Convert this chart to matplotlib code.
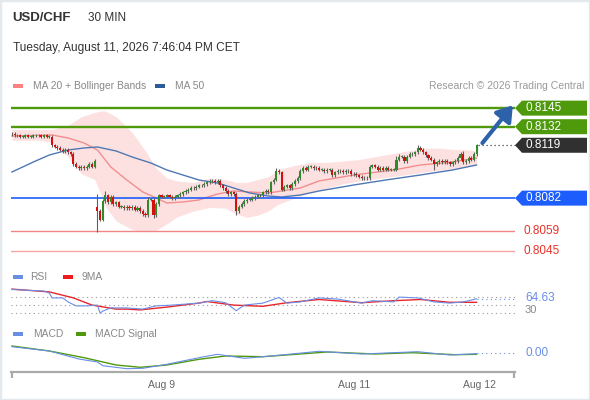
import numpy as np
import matplotlib
matplotlib.use("Agg")
import matplotlib.pyplot as plt
from matplotlib.patches import Polygon, Rectangle
from matplotlib.transforms import blended_transform_factory

plt.rcParams['font.family'] = ['Liberation Sans', 'DejaVu Sans']

# ---------------- data (prices given in pips above 0.8000) ----------------
closes_pips = [
    127, 126, 126, 125, 125, 126, 125, 125, 126, 126, 126, 125, 126, 125, 125,
    119,
    118, 117, 116, 115, 116, 114, 113,
    106,
    104, 103, 104, 103, 104, 106, 104, 108,
    73, 67, 80, 84, 79, 83, 78, 79, 76, 76, 75, 76, 75, 76, 74, 75, 73, 71, 70,
    81, 81, 70, 78, 84,
    83, 83, 84, 83, 82, 83, 84,
    85, 86, 87, 88, 89, 89, 90, 91, 91, 92, 93,
    94, 94, 93, 94,
    91, 89, 87, 85, 86, 85,
    73,
    76, 78, 80, 81, 81, 82, 83, 84, 84, 86, 87, 86,
    93, 95, 101, 100,
    88,
    90, 91, 89, 92, 94,
    96, 101, 103, 102, 104, 104,
    103, 103, 102, 102, 101, 102, 102,
    98,
    100, 101, 101, 100, 101, 101,
    99, 99, 98, 97, 96, 96, 96,
    104,
    105, 104, 102, 103, 102, 103, 102, 102, 102,
    109, 111, 111, 108, 111, 113, 113, 114,
    117, 116, 114, 112, 110, 109,
    106,
    107, 108, 107, 108, 107,
    106,
    107, 108, 110, 113,
    107,
    108, 110, 109, 113, 119,
]
first_open_pips = 127
gap_open_pips = {32: 76}
wick_up_pips = {32: 9, 35: 3, 51: 2, 99: 2, 144: 2.5, 145: 2, 152: 2, 169: 2, 134: 1.5}
wick_dn_pips = {32: 15, 53: 2, 84: 3, 158: 4, 120: 1.5}
default_wick_pips = 1.2

band_idx = [0, 10, 15, 21, 26, 31, 33, 35, 39, 45, 50, 54, 58, 62, 68, 74, 80, 84,
            88, 92, 96, 100, 106, 112, 118, 124, 130, 136, 142, 148, 154, 160, 166, 170, 174]
band_up_pips = [130, 130, 130, 133, 139, 142, 143, 143, 139, 128, 115, 103, 96, 94, 93, 96, 95, 93,
                93, 95, 97, 102, 105, 107, 107, 108, 109, 111, 113, 115, 117, 117, 116, 116, 115]
band_lo_pips = [122.5, 122.5, 121, 111, 99, 95, 86, 76, 66, 60, 58.5, 59.5, 64, 69, 73, 75.5, 75, 71,
                68.5, 70, 73, 78, 82, 86, 89, 92, 94, 95.5, 97, 98.5, 100, 101.5, 103, 104, 105]

ma20_idx = [0, 15, 21, 27, 32, 37, 43, 49, 54, 58, 64, 70, 77, 83, 89, 96, 101, 108, 115,
            128, 134, 143, 153, 165, 174]
ma20_pips = [125.5, 126.2, 124.1, 120.6, 115.7, 103.8, 94.7, 86.3, 82.1, 78.6, 79.3, 80.7, 84.9,
             87.0, 86.3, 85.6, 87.0, 89.1, 94.0, 98.2, 99.6, 101.7, 105.2, 107.3, 110.1]

ma50_idx = [0, 8, 14, 21, 27, 32, 39, 45, 52, 58, 64, 70, 77, 83, 89, 96, 101, 108, 115,
            128, 140, 153, 165, 174]
ma50_pips = [100.3, 107.3, 112.2, 115.7, 117.1, 117.8, 115.0, 110.8, 106.6, 101.7, 98.2, 94.7,
             92.6, 89.1, 85.6, 83.5, 82.8, 84.2, 87.0, 91.2, 94.7, 98.2, 101.7, 105.2]

rsi_idx = [0, 12, 14, 15, 19, 21, 24, 28, 32, 33, 34, 37, 43, 49, 52, 54, 60, 70, 75, 80, 84,
           87, 94, 100, 103, 108, 115, 122, 131, 135, 143, 145, 152, 158, 164, 169, 174]
rsi_vals = [88, 84, 79, 67, 67, 57, 47, 47, 49, 29, 34, 42, 42, 39, 44, 47, 49, 54, 60, 55, 35,
            49, 54, 68, 54, 57, 67, 64, 54, 60, 57, 69, 67, 57, 54, 57, 64.63]

rsi_ma_idx = [0, 14, 23, 30, 39, 43, 48, 58, 70, 73, 83, 94, 103, 115, 131, 143, 153, 164, 174]
rsi_ma_vals = [89, 82, 67, 49, 39, 39, 37, 44, 54, 58, 49, 46, 55, 63, 55, 60, 63, 56, 56]

macd_idx = [0, 14, 25, 32, 34, 43, 49, 58, 70, 77, 87, 97, 115, 131, 152, 164, 174]
macd_vals = [6.3, 2, -6, -9, -12.7, -15.7, -15.3, -11.3, -4.7, -1.3, -5.3, -3, 1.7, -1, 1.3, -2, -0.7]
sig_idx = [0, 14, 27, 39, 48, 58, 70, 80, 94, 118, 136, 150, 166, 174]
sig_vals = [7, 2, -4.7, -12, -14.3, -12, -6.3, -3, -3.7, 1, -1, 0.3, -1.7, -1.3]

date_ticks = [56, 128, 175]
date_labels = ['Aug 9', 'Aug 11', 'Aug 12']

res_levels = [0.8145, 0.8132]
last_price = 0.8119
pivot_level = 0.8082
sup_levels = [0.8059, 0.8045]
rsi_last = 64.63

# ---------------- colours ----------------
GREEN = '#4e9a0c'
BLUE_LVL = '#1d5dfb'
RED_LVL = '#f08585'
UP_C = '#2f8a2c'
DN_C = '#d40f0f'
WICK_C = '#606060'
BAND_C = '#fde1e1'
MA20_C = '#f28e8e'
MA50_C = '#4f78b3'
TXT_GRAY = '#888888'

W, H = 590, 400
fig = plt.figure(figsize=(W / 100, H / 100), dpi=100)
fig.patch.set_facecolor('white')


def rect(x0, y0, x1, y1):
    return [x0 / W, 1 - y1 / H, (x1 - x0) / W, (y1 - y0) / H]


def fx(x):
    return x / W


def fy(y):
    return 1 - y / H


def P(a):
    return 0.8 + np.asarray(a, dtype=float) / 1e4


XMIN, XMAX = -0.375, 188.4

# ---------------- main price axes ----------------
ax = fig.add_axes(rect(11, 95, 515, 262))
ax.set_xlim(XMIN, XMAX)
ax.set_ylim(P(37.29), P(154.19))
ax.axis('off')

N = len(closes_pips)
idx = np.arange(N)
c = P(closes_pips)
o = np.empty(N)
o[0] = P(first_open_pips)
o[1:] = c[:-1]
for k, v in gap_open_pips.items():
    o[k] = P(v)
top = np.maximum(o, c)
bot = np.minimum(o, c)
hi = top + np.array([wick_up_pips.get(i, default_wick_pips) for i in idx]) / 1e4
lo = bot - np.array([wick_dn_pips.get(i, default_wick_pips) for i in idx]) / 1e4

ax.fill_between(band_idx, P(band_lo_pips), P(band_up_pips), color=BAND_C, lw=0, zorder=1)
ax.plot(ma20_idx, P(ma20_pips), color=MA20_C, lw=1.0, zorder=2)
ax.plot(ma50_idx, P(ma50_pips), color=MA50_C, lw=1.0, zorder=2)

for lv in res_levels:
    ax.axhline(lv, color=GREEN, lw=1.7, zorder=2)
ax.axhline(pivot_level, color=BLUE_LVL, lw=1.2, zorder=2)
ax.axhline(sup_levels[0], color=RED_LVL, lw=1.0, zorder=2)
ax.axhline(sup_levels[1], color='#f5a8a8', lw=1.0, zorder=2)

ax.vlines(idx, lo, hi, color=WICK_C, lw=0.8, zorder=3)
hgt = np.maximum(top - bot, 0.00003)
mid = (top + bot) / 2
colors = [UP_C if c[i] >= o[i] else DN_C for i in idx]
ax.bar(idx, hgt, bottom=mid - hgt / 2, width=0.78, color=colors, lw=0, zorder=4)

ax.plot([N - 0.3, XMAX], [last_price, last_price], color='#444444', lw=0.9,
        ls=(0, (1, 2.2)), zorder=3, clip_on=False)

ax.annotate('', xy=(187.6, res_levels[0] + 0.0002), xytext=(176.2, last_price + 0.00016),
            arrowprops=dict(arrowstyle='-|>,head_length=0.75,head_width=0.5', color='#2d62ab',
                            lw=3.0, shrinkA=0, shrinkB=0, mutation_scale=12),
            annotation_clip=False, zorder=6)

tr = blended_transform_factory(fig.transFigure, ax.transData)
half = 7.5 * 0.00007


def level_box(val, text, fc):
    poly = Polygon([(fx(515), val), (fx(522), val + half), (fx(587), val + half),
                    (fx(587), val - half), (fx(522), val - half)], closed=True,
                   transform=tr, fc=fc, ec='none', clip_on=False, zorder=5)
    ax.add_patch(poly)
    ax.text(fx(525), val, text, transform=tr, color='white', fontsize=8.5,
            va='center', ha='left', clip_on=False, zorder=6)


for lv in res_levels:
    level_box(lv, f'{lv:.4f}', GREEN)
level_box(last_price, f'{last_price:.4f}', '#303030')
level_box(pivot_level, f'{pivot_level:.4f}', BLUE_LVL)
for lv in sup_levels:
    ax.text(fx(523), lv, f'{lv:.4f}', transform=tr, color='#e8322a', fontsize=8.5,
            va='center', ha='left', clip_on=False)

# ---------------- RSI axes ----------------
ar = fig.add_axes(rect(11, 283, 515, 320))
ar.set_xlim(XMIN, XMAX)
ar.set_ylim(11.75, 104.25)
ar.axis('off')
for lv in (70, 50, 30):
    ar.axhline(lv, color='#9a9a9a', lw=0.8, ls=(0, (1, 3)))
ar.plot(rsi_ma_idx, rsi_ma_vals, color='#e8262b', lw=1.0, zorder=3)
ar.plot(rsi_idx, rsi_vals, color='#6a8ee6', lw=0.8, zorder=4)
ar.plot([rsi_idx[-1], XMAX], [rsi_last, rsi_last], color='#6a8ee6', lw=0.8,
        ls=(0, (1, 3)), clip_on=False)
trr = blended_transform_factory(fig.transFigure, ar.transData)
ar.text(fx(525), 36, '30', transform=trr, color='#888888', fontsize=8, va='center', clip_on=False)
ar.text(fx(525), rsi_last + 1, f'{rsi_last:.2f}', transform=trr, color='#6a8ee6', fontsize=8.5,
        va='center', clip_on=False)

# ---------------- MACD axes ----------------
am = fig.add_axes(rect(11, 340, 515, 372))
am.set_xlim(XMIN, XMAX)
am.set_ylim(-19, 13)
for s in ('top', 'left', 'right'):
    am.spines[s].set_visible(False)
am.spines['bottom'].set_color('#aaaaaa')
am.spines['bottom'].set_linewidth(1.6)
am.set_yticks([])
am.plot(sig_idx, sig_vals, color='#4e9a0c', lw=1.0, zorder=3)
am.plot(macd_idx, macd_vals, color='#6a8ee6', lw=0.8, zorder=4)
am.plot([macd_idx[-1], XMAX], [0, 0], color='#6a8ee6', lw=0.8, ls=(0, (1, 3)), clip_on=False)
trm = blended_transform_factory(fig.transFigure, am.transData)
am.text(fx(525), 0, '0.00', transform=trm, color='#6a8ee6', fontsize=8.5, va='center', clip_on=False)
am.set_xticks(date_ticks)
am.set_xticklabels(date_labels)
am.tick_params(axis='x', which='major', length=0, pad=6, labelsize=7.5, labelcolor='#666666')
am.set_xticks([XMIN + 0.2, XMAX - 0.2], minor=True)
am.tick_params(axis='x', which='minor', length=4.5, width=1.6, color='#aaaaaa', direction='out')

# ---------------- header texts & legends ----------------
fig.text(fx(12), fy(18), 'USD/CHF', fontsize=9.5, fontweight='bold', color='#333333', va='center')
fig.text(fx(88), fy(18), '30 MIN', fontsize=8.5, color='#333333', va='center')
fig.text(fx(13), fy(48), 'Tuesday, August 11, 2026 7:46:04 PM CET', fontsize=8.6,
         color='#333333', va='center')


def leg(x0, y, color, label, xt, w=10):
    fig.patches.append(Rectangle((fx(x0), fy(y + 2.2)), w / W, 4.4 / H, transform=fig.transFigure,
                                 fc=color, ec='none'))
    fig.text(fx(xt), fy(y), label, fontsize=7.4, color=TXT_GRAY, va='center')


leg(13, 86, '#ff8080', 'MA 20 + Bollinger Bands', 33)
leg(155, 86, '#2e5b9a', 'MA 50', 175)
fig.text(fx(584), fy(86), 'Research \u00a9 2026 Trading Central', fontsize=7.5, color='#999999',
         va='center', ha='right')
leg(13, 277, '#6a8ee6', 'RSI', 30)
leg(63, 277, '#ee1c1c', '9MA', 82)
leg(13, 334, '#6a8ee6', 'MACD', 33)
leg(76, 334, '#4e9a0c', 'MACD Signal', 95)

fig.patches.append(Rectangle((0, 0), 1, 1, transform=fig.transFigure, fill=False,
                             ec='#e4e9ee', lw=2.5))

fig.savefig('out.png', dpi=100, facecolor='white')
